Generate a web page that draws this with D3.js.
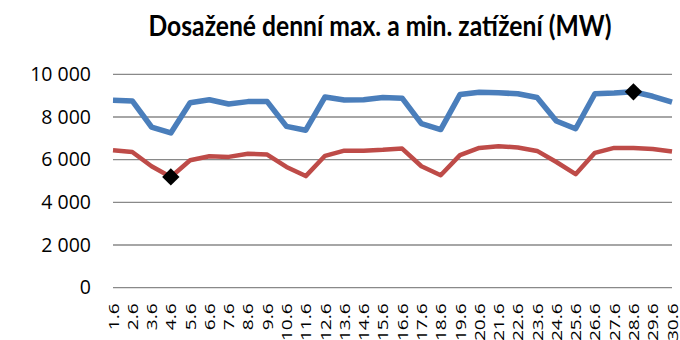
<!DOCTYPE html>
<html>
<head>
<meta charset="utf-8">
<script src="https://cdn.jsdelivr.net/npm/d3@7"></script>
<style>
  html, body { margin: 0; padding: 0; background: #fff; }
  svg { display: block; }
</style>
</head>
<body>
<svg id="chart" width="680" height="340"></svg>
<script>
// Days of June
const days = ["1.6","2.6","3.6","4.6","5.6","6.6","7.6","8.6","9.6","10.6",
              "11.6","12.6","13.6","14.6","15.6","16.6","17.6","18.6","19.6","20.6",
              "21.6","22.6","23.6","24.6","25.6","26.6","27.6","28.6","29.6","30.6"];

// Daily maximum load (MW)
const maxLoad = [8780, 8750, 7530, 7250, 8670, 8810, 8610, 8720, 8720, 7560,
                 7380, 8940, 8800, 8810, 8910, 8880, 7690, 7410, 9050, 9160,
                 9130, 9090, 8910, 7810, 7450, 9090, 9120, 9180, 8970, 8700];

// Daily minimum load (MW)
const minLoad = [6440, 6360, 5690, 5190, 5970, 6160, 6130, 6280, 6240, 5660,
                 5230, 6180, 6420, 6420, 6460, 6520, 5690, 5270, 6210, 6550,
                 6630, 6570, 6410, 5890, 5320, 6320, 6550, 6550, 6500, 6380];

const yTicks = [0, 2000, 4000, 6000, 8000, 10000];
const title = "Dosažené denní max. a min. zatížení (MW)";

const svg = d3.select("#chart");
const plotLeft = 113, plotRight = 672, plotTop = 74.3, plotBottom = 287.7;

const x = d3.scalePoint().domain(days).range([plotLeft, plotRight]);
const y = d3.scaleLinear().domain([0, 10000]).range([plotBottom, plotTop]);

const fmt = v => d3.format(",")(v).replace(/,/g, " ");

// Title, sized to span the chart's title width
const t = svg.append("text")
  .attr("text-anchor", "middle")
  .attr("transform", "translate(380,36) scale(1,1.12)")
  .style("font-family", "Lato, sans-serif")
  .style("font-weight", "bold")
  .style("font-size", "20px")
  .attr("fill", "#000")
  .text(title);
const tw = t.node().getComputedTextLength();
t.style("font-size", (20 * 463 / tw) + "px");

// Horizontal gridlines
svg.append("g")
  .selectAll("line")
  .data(yTicks)
  .join("line")
  .attr("x1", plotLeft).attr("x2", plotRight)
  .attr("y1", d => y(d)).attr("y2", d => y(d))
  .attr("stroke", "#898989")
  .attr("stroke-width", 1.3);

// Value axis labels
const yAxis = d3.axisLeft(y).tickValues(yTicks).tickFormat(fmt).tickSize(0).tickPadding(0);
svg.append("g")
  .attr("transform", "translate(91,0)")
  .call(yAxis)
  .call(g => g.select(".domain").remove())
  .selectAll("text")
  .style("font-family", "'Open Sans', sans-serif")
  .style("font-size", "19.5px")
  .attr("fill", "#000");

// Category axis labels (rotated, drawn condensed)
const xAxis = d3.axisBottom(x).tickSize(0).tickPadding(0);
svg.append("g")
  .attr("transform", `translate(0,${plotBottom})`)
  .call(xAxis)
  .call(g => g.select(".domain").remove())
  .selectAll("text")
  .attr("transform", "rotate(-90) scale(1.37,1)")
  .attr("x", -15.5 / 1.37)
  .attr("y", 0)
  .attr("dy", "0.36em")
  .attr("text-anchor", "end")
  .style("font-family", "'Open Sans', sans-serif")
  .style("font-size", "14px")
  .attr("fill", "#000");

// Series lines
const line = d3.line().x((d, i) => x(days[i])).y(d => y(d));

svg.append("path")
  .datum(maxLoad)
  .attr("d", line)
  .attr("fill", "none")
  .attr("stroke", "#4a7ebb")
  .attr("stroke-width", 5.5)
  .attr("stroke-linejoin", "round");

svg.append("path")
  .datum(minLoad)
  .attr("d", line)
  .attr("fill", "none")
  .attr("stroke", "#be4b48")
  .attr("stroke-width", 4.5)
  .attr("stroke-linejoin", "round");

// Diamond markers at the month's extreme values
const maxIdx = d3.maxIndex(maxLoad);
const minIdx = d3.minIndex(minLoad);
const diamond = d3.symbol().type(d3.symbolSquare).size(150);
[[maxIdx, maxLoad[maxIdx]], [minIdx, minLoad[minIdx]]].forEach(([i, v]) => {
  svg.append("path")
    .attr("d", diamond)
    .attr("transform", `translate(${x(days[i])},${y(v)}) rotate(45)`)
    .attr("fill", "#000");
});
</script>
</body>
</html>
